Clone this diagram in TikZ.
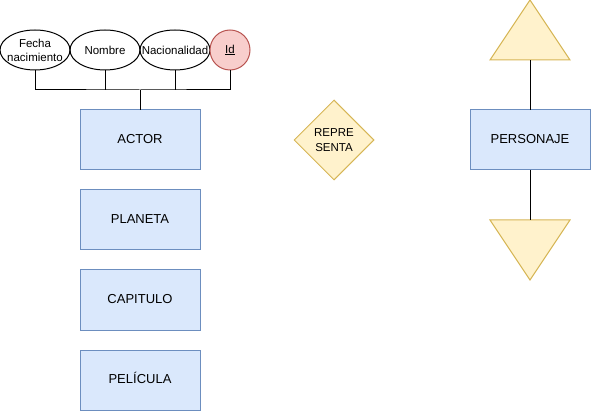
\documentclass[tikz,border=0pt]{standalone}
\usepackage{fontspec}
\setmainfont{Liberation Sans}
\usepackage{xcolor}
\usetikzlibrary{positioning,calc,shapes.geometric}
\definecolor{bluefill}{HTML}{DAE8FC}
\definecolor{bluedraw}{HTML}{6C8EBF}
\definecolor{yelfill}{HTML}{FFF2CC}
\definecolor{yeldraw}{HTML}{D6B656}
\definecolor{redfill}{HTML}{F8CECC}
\definecolor{reddraw}{HTML}{B85450}

\begin{document}
\begin{tikzpicture}[x=1pt, y=-1pt, line width=1pt,
  entity/.style={draw=bluedraw, fill=bluefill, minimum width=120pt, minimum height=60pt, inner sep=0pt, outer sep=0pt, text height=9.5pt, text depth=2.5pt, font=\fontsize{13}{15}\selectfont},
  attr/.style={draw, ellipse, minimum width=70pt, minimum height=40pt, inner xsep=-16pt, inner ysep=0pt, align=center, font=\fontsize{11.5}{14}\selectfont},
  keyattr/.style={draw=reddraw, fill=redfill, circle, minimum size=40pt, inner sep=0pt, font=\fontsize{11.5}{14}\selectfont},
  rel/.style={draw=yeldraw, fill=yelfill, diamond, minimum width=80pt, minimum height=80pt, inner sep=0pt, align=center, font=\fontsize{11.5}{15}\selectfont},
  tri/.style={draw=yeldraw, fill=yelfill}]
\useasboundingbox (0,0) rectangle (591,411);
\node[attr] (fecha) at (35,50) {Fecha\\nacimiento};
\node[attr] (nombre) at (105,50) {Nombre};
\node[attr] (nacion) at (175,50) {Nacionalidad};
\node[keyattr] (id) at (230,50) {\underline{Id}};
\node[entity] (actor) at (140,140) {ACTOR};
\node[entity, below=20pt of actor] (planeta) {PLANETA};
\node[entity, below=20pt of planeta] (capitulo) {CAPITULO};
\node[entity, below=20pt of capitulo] (pelicula) {PELÍCULA};
\node[rel] (representa) at (334,140) {REPRE\\SENTA};
\node[entity] (personaje) at (530,140) {PERSONAJE};
% triangles above and below personaje
\coordinate (uptri) at (530,60);
\coordinate (downtri) at (530,220);
\draw[tri] (uptri) ++(-40,0) -- (530,0) -- ++(40,60) -- cycle;
\draw[tri] (downtri) ++(-40,0) -- (530,280) -- ++(40,-60) -- cycle;
\draw (personaje.north) -- (uptri);
\draw (personaje.south) -- (downtri);
% attributes of actor
\coordinate (bus) at (140,90);
\draw (fecha.south) |- (bus) -| (id.south);
\draw (nombre.south) -- (nombre.south |- bus);
\draw (nacion.south) -- (nacion.south |- bus);
\draw (actor.north) -- (bus);
\end{tikzpicture}
\end{document}
